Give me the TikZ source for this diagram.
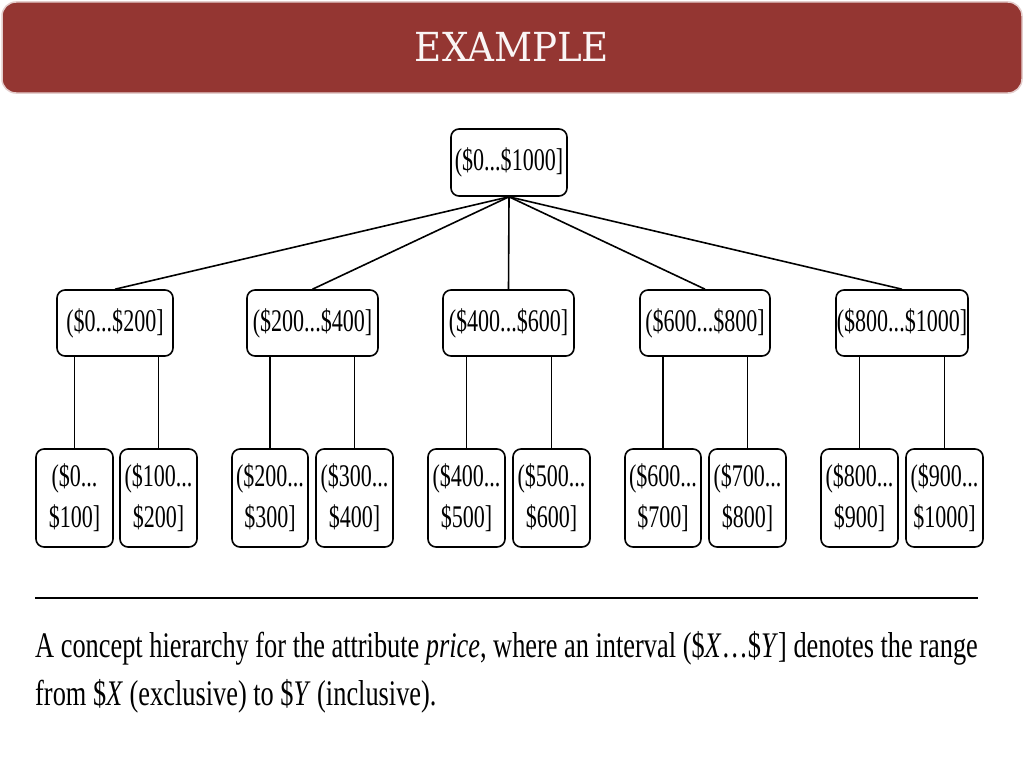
\documentclass[tikz,border=0pt]{standalone}
\usepackage{fontspec}
\setmainfont{Liberation Serif}[FakeStretch=0.7]
\newfontfamily\titlefont{DejaVu Serif}[FakeStretch=0.93]
\newfontfamily\capfont{Liberation Serif}[FakeStretch=0.732]
\usepackage{tikz}

\definecolor{bannerred}{HTML}{943632}
\tikzset{
  pricebox/.style = {draw, line width=1.6pt, rounded corners=8pt, inner sep=0pt,
    font=\fontsize{31.5}{41}\selectfont, align=center},
  link/.style = {line width=1.6pt},
}

\begin{document}
\begin{tikzpicture}[x=1pt, y=-1pt]
\useasboundingbox (0,0) rectangle (1024,768);
\fill [white] (0,0) rectangle (1024,768);
% banner
\draw [bannerred!25, line width=1.5pt, fill=bannerred, rounded corners=14pt] (2,2) rectangle (1022,93);
\node (title) [text=white!95!bannerred, font=\titlefont\fontsize{40}{40}\selectfont] at (512,47) {EXAMPLE};
% root
\node (all) [pricebox, minimum width=116pt, minimum height=67pt] at (509,162.5) {(\$0...\$1000]};
% second level
\node (a) [pricebox, minimum width=116pt, minimum height=66pt] at (115,323) {(\$0...\$200]};
\node (b) [pricebox, minimum width=131pt, minimum height=66pt] at (312.5,323) {(\$200...\$400]};
\node (c) [pricebox, minimum width=131pt, minimum height=66pt] at (508.5,323) {(\$400...\$600]};
\node (d) [pricebox, minimum width=130pt, minimum height=66pt] at (705,323) {(\$600...\$800]};
\node (e) [pricebox, minimum width=132pt, minimum height=66pt] at (902,323) {(\$800...\$1000]};
% leaves
\node (a1) [pricebox, minimum width=77pt, minimum height=98pt] at (74.5,498) {(\$0...\\\$100]};
\node (a2) [pricebox, minimum width=77pt, minimum height=98pt] at (158.5,498) {(\$100...\\\$200]};
\node (b1) [pricebox, minimum width=76pt, minimum height=98pt] at (270,498) {(\$200...\\\$300]};
\node (b2) [pricebox, minimum width=77pt, minimum height=98pt] at (354.5,498) {(\$300...\\\$400]};
\node (c1) [pricebox, minimum width=77pt, minimum height=98pt] at (466.5,498) {(\$400...\\\$500]};
\node (c2) [pricebox, minimum width=77pt, minimum height=98pt] at (551.5,498) {(\$500...\\\$600]};
\node (d1) [pricebox, minimum width=76pt, minimum height=98pt] at (663,498) {(\$600...\\\$700]};
\node (d2) [pricebox, minimum width=77pt, minimum height=98pt] at (747.5,498) {(\$700...\\\$800]};
\node (e1) [pricebox, minimum width=77pt, minimum height=98pt] at (859.5,498) {(\$800...\\\$900]};
\node (e2) [pricebox, minimum width=77pt, minimum height=98pt] at (944.5,498) {(\$900...\\\$1000]};
% root to second level
\draw [link] (all.south) -- (a.north);
\draw [link] (all.south) -- (b.north);
\draw [link] (all.south) -- (c.north);
\draw [link] (all.south) -- (d.north);
\draw [link] (all.south) -- (e.north);
% second level to leaves
\draw [link] (a.south -| a1.north) -- (a1.north);
\draw [link] (a.south -| a2.north) -- (a2.north);
\draw [link] (b.south -| b1.north) -- (b1.north);
\draw [link] (b.south -| b2.north) -- (b2.north);
\draw [link] (c.south -| c1.north) -- (c1.north);
\draw [link] (c.south -| c2.north) -- (c2.north);
\draw [link] (d.south -| d1.north) -- (d1.north);
\draw [link] (d.south -| d2.north) -- (d2.north);
\draw [link] (e.south -| e1.north) -- (e1.north);
\draw [link] (e.south -| e2.north) -- (e2.north);
% caption
\coordinate (ruleL) at (35,598);
\coordinate (ruleR) at (978,598);
\draw [line width=2pt] (ruleL) -- (ruleR);
\node (cap1) [anchor=base west, inner sep=0pt, font=\capfont\fontsize{36}{36}\selectfont] at (35,657)
  {A concept hierarchy for the attribute \textit{price}, where an interval (\$\textit{X}\ldots\$\textit{Y}] denotes the range};
\node (cap2) [anchor=base west, inner sep=0pt, font=\capfont\fontsize{36}{36}\selectfont] at (35,705)
  {from \$\textit{X} (exclusive) to \$\textit{Y} (inclusive).};
\end{tikzpicture}
\end{document}
